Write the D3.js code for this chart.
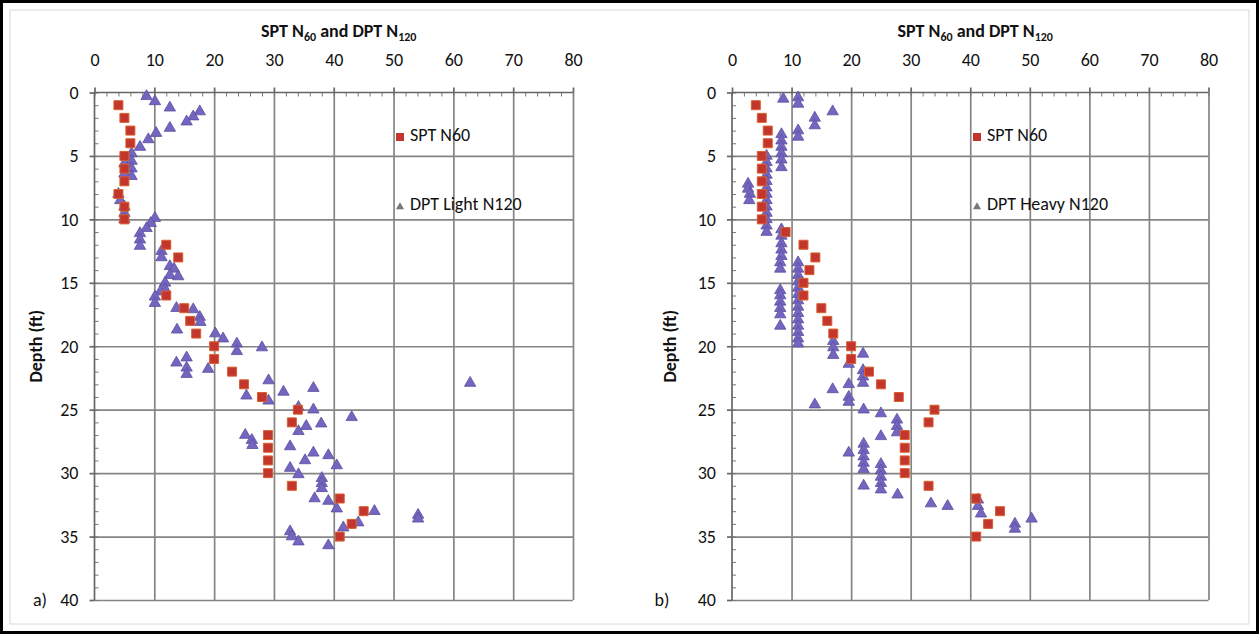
<!DOCTYPE html>
<html><head><meta charset="utf-8">
<script src="https://cdn.jsdelivr.net/npm/d3@7"></script>
<style>
body{margin:0;background:#fff}
svg text{font-family:Carlito,Lato,"Liberation Sans",sans-serif;fill:#111}
</style></head>
<body><svg id="chart" width="1259" height="634"></svg>
<script>
// ---------- data ----------
const xTickValues = [0,10,20,30,40,50,60,70,80];
const yTickValues = [0,5,10,15,20,25,30,35,40];
const panelLabels = ["a)","b)"];
const legendNames = [["SPT N60","DPT Light N120"],["SPT N60","DPT Heavy N120"]];

// Panel a) SPT N60
const sptDepthA = [1,2,3,4,5,6,7,8,9,10,12,13,16,17,18,19,20,21,22,23,24,25,26,27,28,29,30,31,32,33,34,35];
const sptNA     = [4,5,6,6,5,5,5,4,5,5,12,14,12,15,16,17,20,20,23,25,28,34,33,29,29,29,29,33,41,45,43,41];
// Panel a) DPT Light N120
const dptLightN = [8.7,10.1,12.6,17.6,16.5,15.4,12.6,10.3,9.0,7.6,6.2,6.2,5.0,6.2,5.0,6.2,4.0,4.3,5.0,5.0,5.0,10.1,9.4,8.7,7.6,7.6,7.6,11.2,11.2,12.6,13.3,12.6,14.0,11.8,11.8,11.0,10.1,10.1,13.7,16.5,17.6,17.7,13.8,20.2,21.5,23.8,28.0,23.8,15.4,13.7,15.4,15.4,19.0,29.1,25.4,29.1,31.6,36.6,62.8,43.0,36.6,34.1,35.4,37.9,34.1,25.2,26.3,26.4,32.7,36.6,35.2,39.1,40.5,32.7,34.1,38.0,38.0,38.0,36.8,39.1,40.5,46.8,44.1,41.6,32.7,33.0,34.1,39.1,54.1,54.1];
const dptLightDepth = [0.3,0.7,1.2,1.5,1.9,2.3,2.8,3.2,3.7,4.3,4.8,5.4,5.6,6.0,6.4,6.6,8.0,8.5,9.0,9.5,10.0,9.9,10.3,10.7,11.1,11.6,12.1,12.5,13.0,13.7,13.9,14.4,14.5,15.0,15.5,15.7,16.1,16.6,17.0,17.1,17.7,18.1,18.7,19.0,19.4,19.8,20.1,20.4,20.9,21.3,21.7,22.2,21.8,22.7,23.9,24.3,23.6,23.3,22.9,25.6,25.0,24.8,26.3,26.1,26.7,27.0,27.4,27.8,27.9,28.4,29.0,28.6,29.4,29.6,30.1,30.4,30.8,31.2,32.0,32.2,32.8,33.0,33.9,34.3,34.6,35.0,35.4,35.7,33.3,33.6];

// Panel b) SPT N60
const sptDepthB = [1,2,3,4,5,6,7,8,9,10,11,12,13,14,15,16,17,18,19,20,21,22,23,24,25,26,27,28,29,30,31,32,33,34,35];
const sptNB     = [4,5,6,6,5,5,5,5,5,5,9,12,14,13,12,12,15,16,17,20,20,23,25,28,34,33,29,29,29,29,33,41,45,43,41];
// Panel b) DPT Heavy N120
const dptHeavyN = [8.6,11.1,11.1,16.9,13.9,13.9,11.1,11.1,8.3,8.3,8.3,8.3,8.3,8.3,5.8,5.8,5.8,5.8,5.8,5.8,5.8,5.8,5.8,5.8,5.8,5.8,5.8,2.7,2.7,3.0,2.9,8.3,8.3,8.3,8.3,8.3,8.1,8.1,8.1,8.1,8.1,8.1,8.1,8.1,11.1,11.1,11.1,11.1,11.1,11.1,11.1,11.1,11.1,11.1,11.1,11.1,11.1,11.1,17.0,17.0,17.0,22.0,22.0,22.0,22.0,19.6,19.6,19.6,19.6,16.9,13.9,22.1,25.0,27.7,27.7,27.7,25.0,19.6,22.1,22.1,22.1,22.1,22.1,22.1,25.0,25.0,25.0,25.0,25.0,27.8,33.4,36.2,41.3,41.3,41.8,47.5,47.5,50.3];
const dptHeavyDepth = [0.5,0.4,0.9,1.5,2.0,2.6,3.0,3.5,3.3,3.8,4.3,4.8,5.3,5.9,5.0,5.5,6.0,6.5,7.0,7.5,8.0,8.5,9.0,9.5,10.0,10.5,11.0,7.2,7.6,8.0,8.5,10.8,11.3,11.9,12.4,12.9,13.4,13.9,15.6,16.0,16.5,17.0,17.5,18.4,13.4,13.9,14.4,14.9,15.4,15.9,16.4,16.9,17.4,17.9,18.4,18.9,19.4,19.8,19.6,20.1,20.7,20.6,21.9,22.4,22.9,21.4,23.0,24.0,24.4,23.4,24.6,25.0,25.3,25.8,26.3,26.8,27.1,28.4,27.7,28.2,28.7,29.2,29.7,31.0,29.3,29.8,30.3,30.8,31.3,31.7,32.4,32.6,32.1,32.6,33.2,34.0,34.4,33.6];

// ---------- layout ----------
const FONT = "Carlito,Lato,sans-serif";
const svg = d3.select("#chart");
svg.append("rect").attr("width",1259).attr("height",634).attr("fill","#fff");
svg.append("rect").attr("x",10).attr("y",10).attr("width",1239).attr("height",614)
   .attr("fill","none").attr("stroke","#d8d8d8").attr("stroke-width",1);
svg.append("rect").attr("x",1.5).attr("y",1.5).attr("width",1256).attr("height",631)
   .attr("fill","none").attr("stroke","#000").attr("stroke-width",3);

const panels = [
  {left:94.5, right:573, top:92.5, bottom:600, spt:[sptNA,sptDepthA], dpt:[dptLightN,dptLightDepth], legX:400, depthX:38, labX:40},
  {left:732, right:1208.5, top:92.5, bottom:600, spt:[sptNB,sptDepthB], dpt:[dptHeavyN,dptHeavyDepth], legX:977, depthX:672, labX:662}
];

const sq = d3.symbol().type(d3.symbolSquare).size(81);
const tri = d3.symbol().type(d3.symbolTriangle).size(56);

panels.forEach((p,i)=>{
  const x = d3.scaleLinear().domain([0,80]).range([p.left,p.right]);
  const y = d3.scaleLinear().domain([0,40]).range([p.top,p.bottom]);
  const g = svg.append("g");

  // grid lines
  g.append("g").attr("transform",`translate(0,${p.top})`)
    .call(d3.axisBottom(x).tickValues(xTickValues.slice(1)).tickSize(p.bottom-p.top).tickFormat(""))
    .call(s=>{s.select(".domain").remove(); s.selectAll("line").attr("stroke","#858585").attr("stroke-width",1.7);});
  g.append("g").attr("transform",`translate(${p.left},0)`)
    .call(d3.axisRight(y).tickValues(yTickValues.slice(1)).tickSize(p.right-p.left).tickFormat(""))
    .call(s=>{s.select(".domain").remove(); s.selectAll("line").attr("stroke","#858585").attr("stroke-width",1.7);});

  // minor ticks (inward)
  g.append("g").attr("transform",`translate(0,${p.top})`)
    .call(d3.axisBottom(x).tickValues(d3.range(0,81,2)).tickSize(4).tickFormat(""))
    .call(s=>{s.select(".domain").remove(); s.selectAll("line").attr("stroke","#777").attr("stroke-width",1);});
  g.append("g").attr("transform",`translate(${p.left},0)`)
    .call(d3.axisRight(y).tickValues(d3.range(0,41,1)).tickSize(4).tickFormat(""))
    .call(s=>{s.select(".domain").remove(); s.selectAll("line").attr("stroke","#777").attr("stroke-width",1);});

  // main axes (top and left) with labels
  const ax = g.append("g").attr("transform",`translate(0,${p.top})`)
    .call(d3.axisTop(x).tickValues(xTickValues).tickSize(5).tickPadding(22));
  ax.select(".domain").attr("stroke","#666").attr("stroke-width",1.7).attr("d",`M${p.left},0H${p.right}`);
  ax.selectAll("line").attr("stroke","#666").attr("stroke-width",1.7);
  ax.selectAll("text").attr("font-size",18).style("font-family",FONT).attr("fill","#111");

  const ay = g.append("g").attr("transform",`translate(${p.left},0)`)
    .call(d3.axisLeft(y).tickValues(yTickValues).tickSize(5).tickPadding(11));
  ay.select(".domain").attr("stroke","#666").attr("stroke-width",1.7).attr("d",`M0,${p.top}V${p.bottom}`);
  ay.selectAll("line").attr("stroke","#666").attr("stroke-width",1.7);
  ay.selectAll("text").attr("font-size",18).style("font-family",FONT).attr("fill","#111");

  // title
  const cx = (p.left+p.right)/2 + 5;
  const t = g.append("text").attr("x",cx).attr("y",37).attr("text-anchor","middle")
    .attr("font-size",18).attr("font-weight","bold");
  t.append("tspan").text("SPT N");
  t.append("tspan").attr("font-size",12).attr("dy",4).text("60");
  t.append("tspan").attr("dy",-4).text(" and DPT N");
  t.append("tspan").attr("font-size",12).attr("dy",4).text("120");

  // y label
  g.append("text").attr("transform",`translate(${p.depthX},${(p.top+p.bottom)/2}) rotate(-90)`)
    .attr("text-anchor","middle").attr("dominant-baseline","middle")
    .attr("font-size",18).attr("font-weight","bold").text("Depth (ft)");

  // panel label
  g.append("text").attr("x",p.labX).attr("y",p.bottom+6).attr("text-anchor","middle")
    .attr("font-size",18).text(panelLabels[i]);

  // DPT triangles
  const [dN,dD] = p.dpt;
  g.append("g").selectAll("path").data(dN.map((n,k)=>[n,dD[k]])).join("path")
    .attr("d",tri).attr("transform",d=>`translate(${x(d[0])},${y(d[1])})`)
    .attr("fill","#7466c0").attr("stroke","#5b4fa0").attr("stroke-width",0.8);

  // SPT squares
  const [sN,sD] = p.spt;
  g.append("g").selectAll("path").data(sN.map((n,k)=>[n,sD[k]])).join("path")
    .attr("d",sq).attr("transform",d=>`translate(${x(d[0])},${y(d[1])})`)
    .attr("fill","#c3362e").attr("stroke","#d9602f").attr("stroke-width",1);

  // legend
  const ly1 = 137, ly2 = 206;
  g.append("rect").attr("x",p.legX-4).attr("y",ly1-4).attr("width",8).attr("height",8).attr("fill","#c3362e");
  g.append("text").attr("x",p.legX+10).attr("y",ly1).attr("dominant-baseline","middle")
    .attr("font-size",18).text(legendNames[i][0]);
  g.append("path").attr("d",d3.symbol().type(d3.symbolTriangle).size(28)).attr("transform",`translate(${p.legX},${ly2+1})`)
    .attr("fill","#777");
  g.append("text").attr("x",p.legX+10).attr("y",ly2).attr("dominant-baseline","middle")
    .attr("font-size",18).text(legendNames[i][1]);
});
</script></body></html>
